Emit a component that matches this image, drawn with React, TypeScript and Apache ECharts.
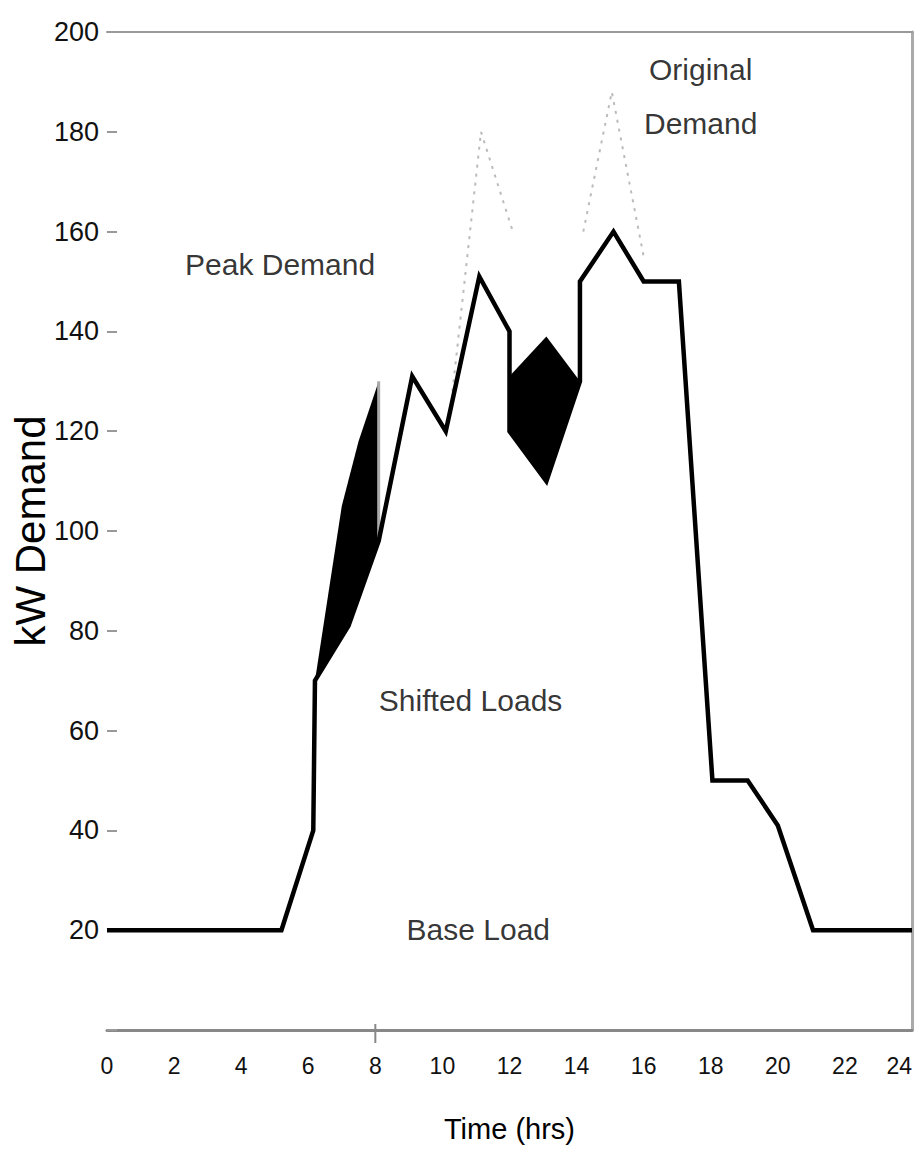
import React, { useEffect, useRef } from "react";
import * as echarts from "echarts";

// Time (hrs) / kW demand after load shifting (solid line)
const shiftedHours = [0, 5.2, 6.15, 6.2, 7.2, 8.1, 9.1, 10.1, 11.1, 12, 12, 13.1, 14.1, 14.1, 15.1, 16, 17.05, 18.05, 19.1, 20, 21.05, 24];
const shiftedKW = [20, 20, 40, 70, 81, 98, 131, 120, 151, 140, 120, 110, 130, 150, 160, 150, 150, 50, 50, 41, 20, 20];

// Original demand peaks (dotted)
const originalPeak1 = [[10.3, 128], [11.15, 180], [12.1, 160]];
const originalPeak2 = [[14.2, 160], [15.05, 188], [16, 155]];

// Shifted load areas (black fills)
const leftShiftTop = [[6.2, 70], [7.0, 105], [7.5, 118], [8.1, 130]];
const leftShiftBottom = [[6.2, 70], [7.2, 81], [8.1, 98]];
const rightShiftTop = [[12, 131], [13.1, 139], [14.1, 130]];
const rightShiftBottom = [[12, 120], [13.1, 110], [14.1, 130]];
const shiftEdge = [[8.1, 130], [8.1, 98]];
const tickMark8 = [[8, 1.2], [8, -2.6]];

const xTicks = [0, 2, 4, 6, 8, 10, 12, 14, 16, 18, 20, 22, 24];
const yTicks = [20, 40, 60, 80, 100, 120, 140, 160, 180, 200];

const annotations = [
  { name: "Peak Demand", value: [5.16, 153.5] },
  { name: "Original\nDemand", value: [17.7, 187] },
  { name: "Shifted Loads", value: [10.84, 66] },
  { name: "Base Load", value: [11.07, 20.2] },
];

const FONT = "'Liberation Sans', Arial, sans-serif";

export default function App() {
  const ref = useRef<HTMLDivElement>(null);
  useEffect(() => {
    if (!ref.current) return;
    const chart = echarts.init(ref.current, undefined, { renderer: "svg" });
    const polys = [
      [...leftShiftTop, ...leftShiftBottom.slice().reverse()],
      [...rightShiftTop, ...rightShiftBottom.slice().reverse()],
    ];
    chart.setOption({
      animation: false,
      backgroundColor: "#fff",
      grid: { left: 107, right: 10, top: 32, bottom: 124, outerBoundsMode: "none", containLabel: false },
      xAxis: [
        {
          type: "value",
          min: 0,
          max: 24,
          interval: 2,
          name: "Time (hrs)",
          nameLocation: "middle",
          nameGap: 84,
          nameMoveOverlap: false,
          nameTextStyle: { fontFamily: FONT, fontSize: 29, color: "#000" },
          axisLine: { show: true, onZero: false, lineStyle: { color: "#888", width: 3 } },
          axisTick: { show: false },
          splitLine: { show: false },
          axisLabel: {
            fontFamily: FONT,
            fontSize: 23,
            color: "#111",
            margin: 24,
            alignMaxLabel: "right",
            formatter: (v: number) => (xTicks.includes(v) ? String(v) : ""),
          },
        },
        {
          type: "value",
          position: "top",
          min: 0,
          max: 24,
          axisLine: { show: true, onZero: false, lineStyle: { color: "#999", width: 2 } },
          axisTick: { show: false },
          axisLabel: { show: false },
          splitLine: { show: false },
        },
      ],
      yAxis: [
        {
          type: "value",
          min: 0,
          max: 200,
          interval: 20,
          name: "kW Demand",
          nameLocation: "middle",
          nameGap: 56,
          nameMoveOverlap: false,
          nameTextStyle: { fontFamily: FONT, fontSize: 42, color: "#000" },
          axisLine: { show: false, onZero: false },
          axisTick: { show: true, inside: true, length: 10, lineStyle: { color: "#999", width: 2 } },
          splitLine: { show: false },
          axisLabel: {
            fontFamily: FONT,
            fontSize: 27,
            color: "#111",
            margin: 8,
            formatter: (v: number) => (yTicks.includes(v) ? String(v) : ""),
          },
        },
        {
          type: "value",
          position: "right",
          min: 0,
          max: 200,
          axisLine: { show: true, onZero: false, lineStyle: { color: "#aaa", width: 3 } },
          axisTick: { show: false },
          axisLabel: { show: false },
          splitLine: { show: false },
        },
      ],
      series: [
        {
          type: "custom",
          name: "Shifted Loads",
          renderItem: (params: any, api: any) => ({
            type: "polygon",
            shape: { points: polys[params.dataIndex].map((p) => api.coord(p)) },
            style: { fill: "#000" },
          }),
          data: polys.map((p) => p[0]),
          z: 2,
        },
        {
          type: "line",
          data: shiftEdge,
          symbol: "none",
          lineStyle: { color: "#aaa", width: 3 },
          z: 3,
        },
        {
          type: "line",
          data: originalPeak1,
          symbol: "none",
          lineStyle: { color: "#bbb", width: 2, type: [3, 6] },
          z: 3,
        },
        {
          type: "line",
          data: originalPeak2,
          symbol: "none",
          lineStyle: { color: "#bbb", width: 2, type: [3, 6] },
          z: 3,
        },
        {
          type: "line",
          name: "Demand",
          data: shiftedHours.map((h, i) => [h, shiftedKW[i]]),
          symbol: "none",
          lineStyle: { color: "#000", width: 4.5, join: "miter" },
          z: 4,
        },
        {
          type: "line",
          data: tickMark8,
          symbol: "none",
          clip: false,
          lineStyle: { color: "#888", width: 2 },
          z: 4,
        },
        {
          type: "scatter",
          data: annotations,
          symbolSize: 0,
          itemStyle: { color: "#000" },
          label: {
            show: true,
            position: "inside",
            formatter: (p: any) => p.name,
            fontFamily: FONT,
            fontSize: 30,
            lineHeight: 54,
            color: "#000",
            textBorderWidth: 0,
          },
          z: 5,
        },
      ],
    });
    return () => chart.dispose();
  }, []);
  return (
    <div
      ref={ref}
      style={{ position: "absolute", left: 0, top: 0, width: 922, height: 1154 }}
    />
  );
}
